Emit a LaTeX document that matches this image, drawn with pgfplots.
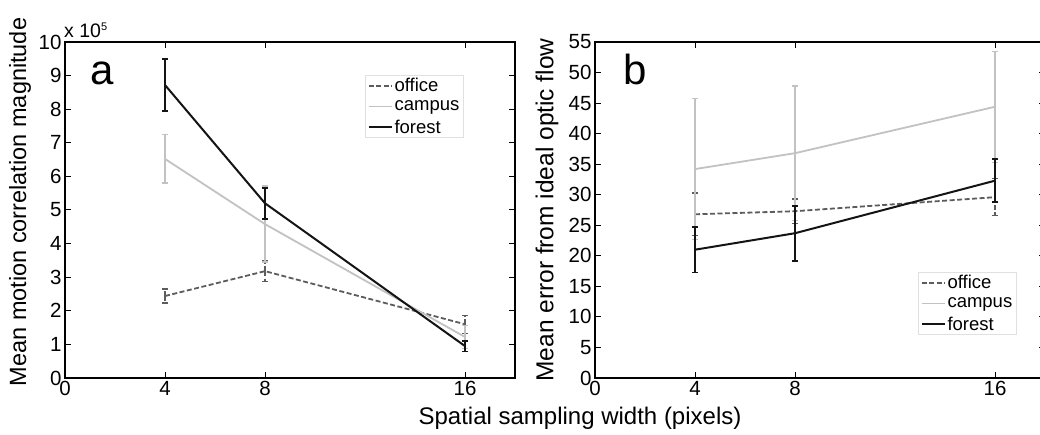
\documentclass[border=0pt]{standalone}
\usepackage{pgfplots}
\pgfplotsset{compat=1.18}
\usepackage{fontspec}
\setmainfont{Liberation Sans}
\definecolor{officec}{gray}{0.36}
\definecolor{campusc}{gray}{0.76}
\definecolor{forestc}{gray}{0.08}
\begin{document}
\begin{tikzpicture}[x=1pt,y=1pt]
\useasboundingbox (0,0) rectangle (1040,434);
\clip (0,0) rectangle (1040,434);
\pgfplotsset{
  myaxis/.style={
    scale only axis, width=450pt, height=336pt,
    xmin=0, xmax=18, xtick={0,4,8,16},
    tick align=inside, major tick length=6pt,
    axis line style={line width=1.3pt},
    every tick/.style={black, line width=1pt},
    tick label style={font=\fontsize{20.5}{22}\selectfont},
    /pgf/number format/assume math mode=true,
    legend cell align=left,
    legend style={draw=black!12, line width=0.8pt, font=\fontsize{18.5}{20}\selectfont,
      inner xsep=2pt, inner ysep=1pt, row sep=3.5pt, anchor=north west},
    legend image code/.code={\draw[##1] (0pt,0pt) -- (23pt,0pt);},
  },
  office/.style={mark=none, officec, line width=1.8pt, dash pattern=on 5pt off 2.5pt,
    error bars/.cd, y dir=both, y explicit,
    error bar style={line width=1.5pt},
    error mark options={rotate=90, mark size=3pt, solid, line width=1.3pt, officec}},
  campus/.style={mark=none, campusc, line width=1.8pt,
    error bars/.cd, y dir=both, y explicit,
    error bar style={line width=1.6pt},
    error mark options={rotate=90, mark size=3pt, line width=1.3pt, campusc}},
  forest/.style={mark=none, forestc, line width=2pt,
    error bars/.cd, y dir=both, y explicit,
    error bar style={line width=2pt},
    error mark options={rotate=90, mark size=3.2pt, line width=1.6pt, forestc}},
}
% panel a
\begin{axis}[myaxis, at={(65pt,56pt)}, anchor=south west,
  ymin=0, ymax=1000000, ytick={0,100000,200000,300000,400000,500000,600000,700000,800000,900000,1000000},
  yticklabels={0,1,2,3,4,5,6,7,8,9,10}, scaled y ticks=false,
  legend style={at={(rel axis cs:0.667,0.902)}}]
\addplot+[office] table[x=x, y=y, y error=e] {
x y e
4 244000 21000
8 318000 30000
16 160000 27000
};
\addlegendentry{office}
\addplot+[campus] table[x=x, y=y, y error=e] {
x y e
4 652000 72000
8 458000 113000
16 122000 35000
};
\addlegendentry{campus}
\addplot+[forest] table[x=x, y=y, y error=e] {
x y e
4 872000 78000
8 520000 46000
16 95000 16000
};
\addlegendentry{forest}
\end{axis}
% panel b
\begin{axis}[myaxis, at={(595pt,56pt)}, anchor=south west,
  ymin=0, ymax=55, ytick={0,5,...,55},
  legend style={at={(rel axis cs:0.718,0.3155)}}]
\addplot+[office] table[x=x, y=y, y error=e] {
x y e
4 26.8 3.5
8 27.3 2.0
16 29.6 3.0
};
\addlegendentry{office}
\addplot+[campus] table[x=x, y=y, y error=e] {
x y e
4 34.2 11.5
8 36.8 11.0
16 44.4 9.1
};
\addlegendentry{campus}
\addplot+[forest] table[x=x, y=y, y error=e] {
x y e
4 21.0 3.7
8 23.7 4.5
16 32.3 3.5
};
\addlegendentry{forest}
\end{axis}
\node[anchor=base west, inner sep=0pt, font=\fontsize{19.5}{21}\selectfont] at (64,396) {x 10\raisebox{7pt}{\fontsize{11}{12}\selectfont 5}};
\node[anchor=base west, inner sep=0pt, font=\fontsize{42}{44}\selectfont] at (90,349) {a};
\node[anchor=base west, inner sep=0pt, font=\fontsize{42}{44}\selectfont] at (623,349) {b};
\node[anchor=center, rotate=90, inner sep=0pt, font=\fontsize{23.5}{25}\selectfont] at (20,232) {Mean motion correlation magnitude};
\node[anchor=center, rotate=90, inner sep=0pt, font=\fontsize{24.5}{26}\selectfont] at (547,224) {Mean error from ideal optic flow};
\node[anchor=base, inner sep=0pt, font=\fontsize{24}{26}\selectfont] at (580,10) {Spatial sampling width (pixels)};
\end{tikzpicture}
\end{document}
